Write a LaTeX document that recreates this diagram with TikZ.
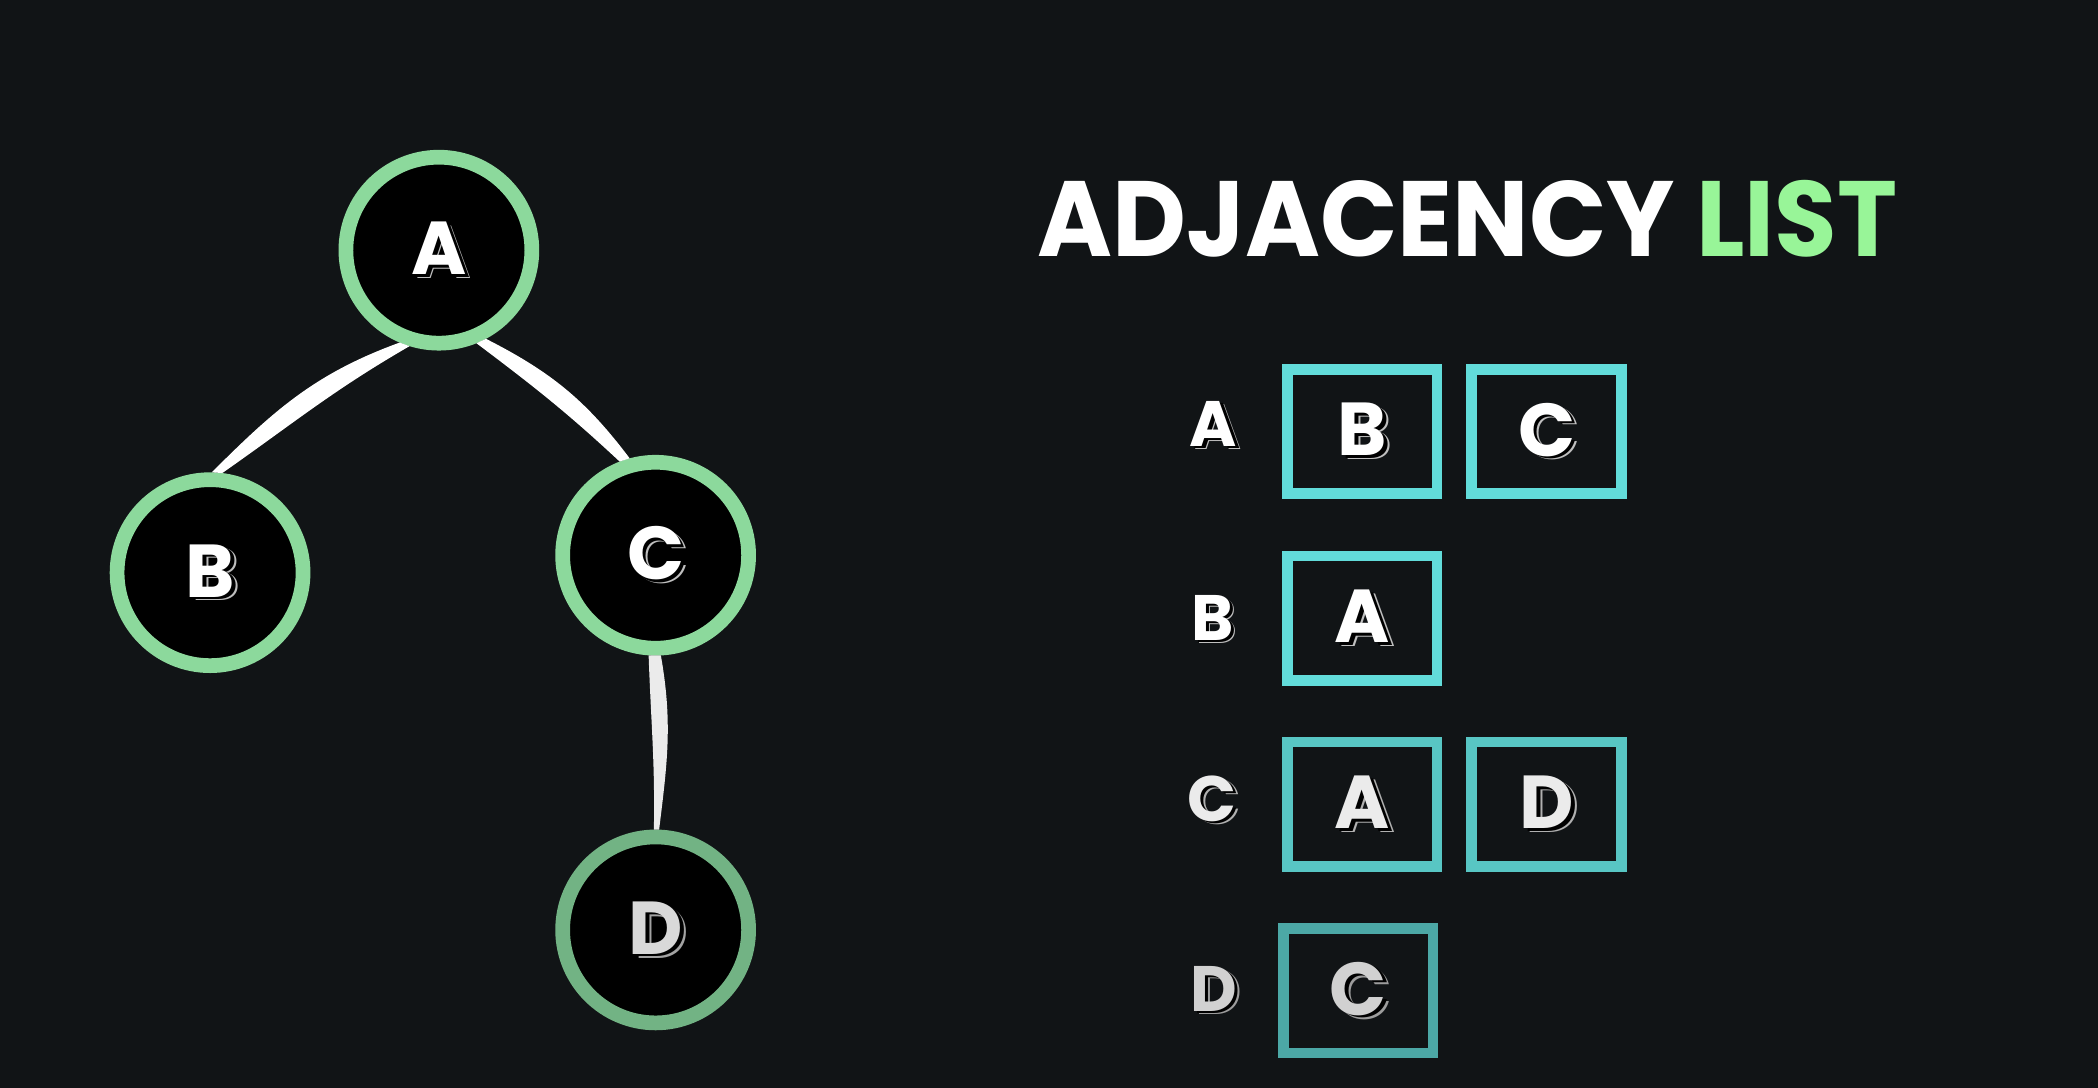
\documentclass[tikz,border=0pt]{standalone}
\usepackage{fontspec}
\setmainfont{Poppins}
\usetikzlibrary{positioning}

\definecolor{bgdark}{HTML}{111416}
\definecolor{ringgreen}{HTML}{8CD99C}
\definecolor{ringfade}{HTML}{72B384}
\definecolor{listgreen}{HTML}{98F598}
\definecolor{cellcyan}{HTML}{62DCDA}
\definecolor{cellmid}{HTML}{58C6C4}
\definecolor{cellfade}{HTML}{4CA8A6}

% white letter with a thin extruded edge
\newcommand{\blockletter}[2][white]{%
  \rlap{\kern0.075em\raisebox{-0.05em}{\color{#1!75!black}#2}}%
  \rlap{\kern0.05em\raisebox{-0.033em}{\color{black}#2}}%
  {\color{#1}#2}}

\tikzset{
  vertex/.style={circle, draw=ringgreen, line width=5.5pt, fill=black,
    minimum size=69.5pt, inner sep=0pt, font=\fontsize{28}{28}\selectfont\bfseries},
  cell/.style={rectangle, draw=cellcyan, line width=4pt, fill=bgdark,
    minimum width=56pt, minimum height=46.5pt, inner sep=0pt,
    font=\fontsize{28}{28}\selectfont\bfseries},
  rowlabel/.style={inner sep=0pt, font=\fontsize{24}{24}\selectfont\bfseries},
  edge/.style={fill=white}
}

\begin{document}
\begin{tikzpicture}[x=0.5pt, y=0.5pt]

  \fill[bgdark] (0,0) rectangle (1568,813);
  \useasboundingbox (0,0) rectangle (1568,813);

  % the graph
  \node[vertex] (a) at (328,626) {\blockletter{A}};
  \node[vertex] (b) at (157,385) {\blockletter{B}};
  \node[vertex] (c) at (490,398) {\blockletter{C}};
  \node[vertex, draw=ringfade] (d) at (490,118) {\blockletter[white!85!black]{D}};

  % tapered edges
  \fill[edge] (a.247) to[out=200, in=45] (b.89) -- (b.83.5) to[out=35, in=210] (a.253) -- cycle;
  \fill[edge] (a.298) to[out=-27, in=127] (c.105.5) -- (c.111) to[out=137, in=-37] (a.292) -- cycle;
  \fill[edge, fill=white!92!black] (c.273.5) to[out=-80, in=83] (d.88.5) -- (d.91) to[out=89, in=-88] (c.266.5) -- cycle;

  % title
  \node[anchor=base west, inner sep=0pt, xscale=0.95, transform shape,
    font=\fontsize{40}{40}\selectfont\bfseries, text=white]
    (title) at (775,621) {ADJACENCY \textcolor{listgreen}{LIST}};

  % the list
  \node[rowlabel] (la) at (907,495) {\blockletter{A}};
  \node[cell] (ab) at (1018,490.5) {\blockletter{B}};
  \node[cell] (ac) at (1156,490.5) {\blockletter{C}};

  \node[rowlabel] (lb) at (906,350) {\blockletter{B}};
  \node[cell] (ba) at (1018,351) {\blockletter{A}};

  \node[rowlabel] (lc) at (906,215) {\blockletter[white!92!black]{C}};
  \node[cell, draw=cellmid] (ca) at (1018,212) {\blockletter[white!92!black]{A}};
  \node[cell, draw=cellmid] (cd) at (1156,212) {\blockletter[white!92!black]{D}};

  \node[rowlabel] (ld) at (907,73) {\blockletter[white!82!black]{D}};
  \node[cell, draw=cellfade] (dc) at (1015,72.5) {\blockletter[white!82!black]{C}};

\end{tikzpicture}
\end{document}
